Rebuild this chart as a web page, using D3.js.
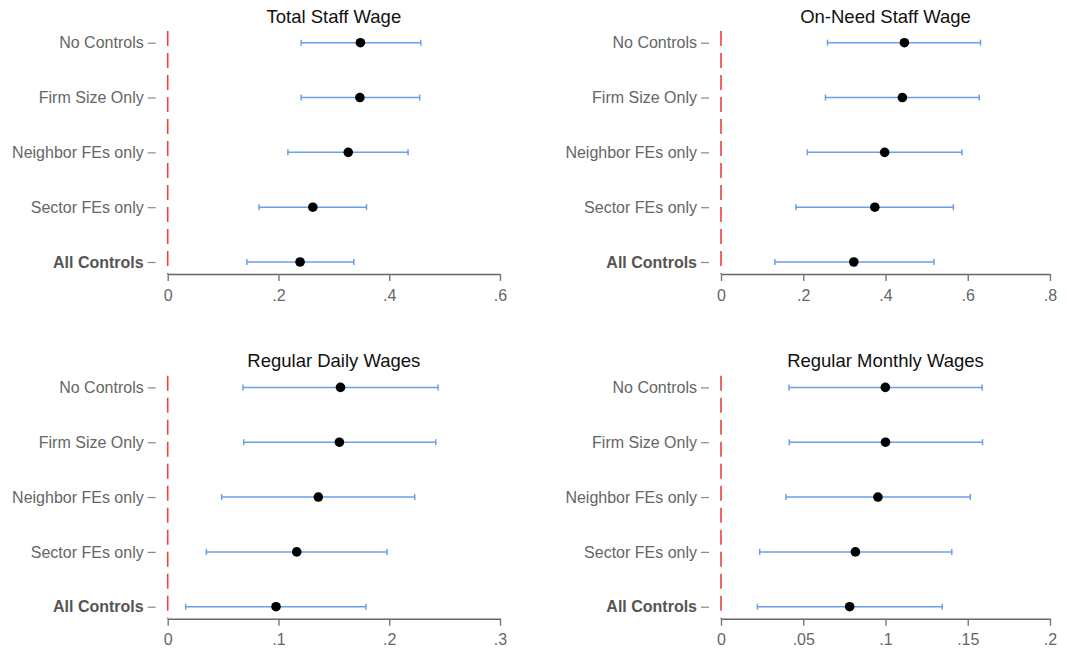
<!DOCTYPE html>
<html><head><meta charset="utf-8">
<script src="https://cdn.jsdelivr.net/npm/d3@7"></script>
<style>body{margin:0;background:#fff}svg{display:block}text{font-family:"Liberation Sans",Arial,sans-serif}</style>
</head><body><svg id="c" width="1067" height="653"></svg>
<script>
const categories = ["No Controls","Firm Size Only","Neighbor FEs only","Sector FEs only","All Controls"];
const titles = ["Total Staff Wage","On-Need Staff Wage","Regular Daily Wages","Regular Monthly Wages"];
const xMax = [0.6, 0.8, 0.3, 0.2];
const tickVals = [[0,0.2,0.4,0.6],[0,0.2,0.4,0.6,0.8],[0,0.1,0.2,0.3],[0,0.05,0.1,0.15,0.2]];
const tickLabels = [["0",".2",".4",".6"],["0",".2",".4",".6",".8"],["0",".1",".2",".3"],["0",".05",".1",".15",".2"]];
const est1 = [0.348,0.347,0.326,0.262,0.239];
const lo1  = [0.241,0.241,0.217,0.165,0.143];
const hi1  = [0.457,0.455,0.434,0.359,0.336];
const est2 = [0.446,0.441,0.398,0.374,0.323];
const lo2  = [0.259,0.254,0.210,0.182,0.131];
const hi2  = [0.631,0.628,0.586,0.565,0.518];
const est3 = [0.156,0.155,0.136,0.1165,0.0978];
const lo3  = [0.068,0.0686,0.0487,0.0349,0.0162];
const hi3  = [0.244,0.242,0.223,0.198,0.179];
const est4 = [0.0999,0.1000,0.0954,0.0817,0.0782];
const lo4  = [0.0413,0.0415,0.0395,0.0235,0.0221];
const hi4  = [0.1587,0.159,0.1515,0.1403,0.1345];
const ests=[est1,est2,est3,est4], los=[lo1,lo2,lo3,lo4], his=[hi1,hi2,hi3,hi4];

const svg = d3.select("#c");
const panels = [
  {x0:167.7,x1:500,top:0},
  {x0:721,x1:1050,top:0},
  {x0:167.7,x1:500,top:344.7},
  {x0:721,x1:1050,top:344.7}
];
panels.forEach((p,i)=>{
  const g = svg.append("g").attr("transform",`translate(0,${p.top})`);
  const x = d3.scaleLinear().domain([0,xMax[i]]).range([p.x0,p.x1]);
  const y = d3.scalePoint().domain(categories).range([42.7,262]);
  const axisY = 274;
  // title
  g.append("text").attr("x",(p.x0+p.x1)/2).attr("y",22.5).attr("text-anchor","middle")
    .attr("font-size",18.5).attr("fill","#111").text(titles[i]);
  // red dashed zero line
  g.append("line").attr("x1",x(0)).attr("x2",x(0)).attr("y1",31).attr("y2",axisY)
    .attr("stroke","#f04040").attr("stroke-width",1.6).attr("stroke-dasharray","15,7");
  // x axis
  const xa = g.append("g").attr("transform",`translate(0,${axisY})`)
    .call(d3.axisBottom(x).tickValues(tickVals[i]).tickFormat((d,k)=>tickLabels[i][k]).tickSize(7).tickSizeOuter(0));
  xa.select(".domain").attr("stroke","#666").attr("stroke-width",1.6);
  xa.selectAll(".tick line").attr("stroke","#777").attr("stroke-width",1.4);
  xa.selectAll(".tick text").attr("font-size",16).attr("fill","#666").attr("dy","1.05em").attr("font-family","Liberation Sans, Arial, sans-serif");
  // y axis ticks and labels
  const ya = g.append("g").attr("transform",`translate(${p.x0-12},0)`)
    .call(d3.axisLeft(y).tickSize(8).tickPadding(4));
  ya.select(".domain").remove();
  ya.selectAll(".tick line").attr("stroke","#888").attr("stroke-width",1.2);
  ya.selectAll(".tick text").attr("font-size",16).attr("fill","#666")
    .attr("font-family","Liberation Sans, Arial, sans-serif")
    .attr("font-weight",d=>d==="All Controls"?"bold":"normal")
    .attr("fill",d=>d==="All Controls"?"#555":"#666");
  // error bars
  const data = categories.map((c,k)=>({c,e:ests[i][k],lo:los[i][k],hi:his[i][k]}));
  const eb = g.append("g").attr("stroke","#6d9eeb").attr("stroke-width",1.5);
  eb.selectAll("line.h").data(data).join("line").attr("class","h")
    .attr("x1",d=>x(d.lo)).attr("x2",d=>x(d.hi)).attr("y1",d=>y(d.c)).attr("y2",d=>y(d.c));
  eb.selectAll("line.l").data(data).join("line").attr("class","l")
    .attr("x1",d=>x(d.lo)).attr("x2",d=>x(d.lo)).attr("y1",d=>y(d.c)-3).attr("y2",d=>y(d.c)+3);
  eb.selectAll("line.r").data(data).join("line").attr("class","r")
    .attr("x1",d=>x(d.hi)).attr("x2",d=>x(d.hi)).attr("y1",d=>y(d.c)-3).attr("y2",d=>y(d.c)+3);
  g.selectAll("circle").data(data).join("circle")
    .attr("cx",d=>x(d.e)).attr("cy",d=>y(d.c)).attr("r",4.8).attr("fill","#000");
});
</script></body></html>
